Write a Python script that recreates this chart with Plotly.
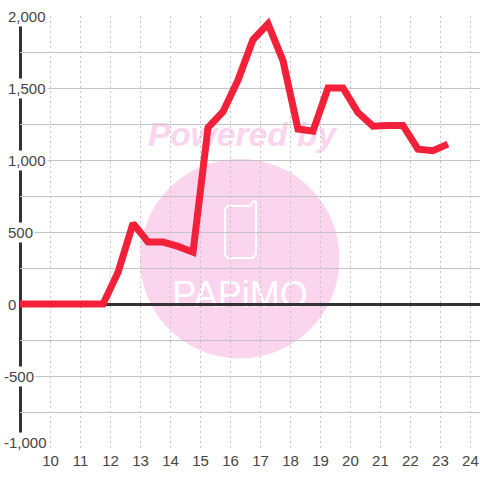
import plotly.graph_objects as go

hours = [8.75, 9.25, 9.75, 10.25, 10.75, 11.25, 11.75, 12.25, 12.75, 13.25, 13.75, 14.25, 14.75,
         15.25, 15.75, 16.25, 16.75, 17.25, 17.75, 18.25, 18.75, 19.25, 19.75, 20.25, 20.75,
         21.25, 21.75, 22.25, 22.75, 23.25]
values = [0, 0, 0, 0, 0, 0, 0, 220, 560, 430, 430, 400, 360,
          1225, 1335, 1555, 1835, 1945, 1690, 1215, 1200, 1500, 1500, 1330, 1235,
          1240, 1240, 1075, 1065, 1110]
x_ticks = list(range(10, 25))
y_labels = {2000: "2,000", 1500: "1,500", 1000: "1,000", 500: "500", 0: "0",
            -500: "-500", -1000: "-1,000"}

W, H = 480, 480
L, R, T, B = 20, 0, 16, 32
PW, PH = W - L - R, H - T - B
px = lambda v: (v - L) / PW
py = lambda v: 1 - (v - T) / PH
FONT = "Liberation Sans"
TXT = "#444444"
PINK = "#fbd5ee"

def P(points, close=False):
    s = "M " + " L ".join(f"{px(a):.5f},{py(b):.5f}" for a, b in points)
    return s + (" Z" if close else "")

shapes = [
    dict(type="circle", xref="paper", yref="paper", layer="below",
         x0=px(140), x1=px(339.5), y0=py(358.5), y1=py(159),
         fillcolor=PINK, line=dict(width=0)),
    dict(type="rect", xref="paper", yref="paper", layer="below",
         x0=px(130), x1=px(354), y0=py(147), y1=py(115),
         fillcolor="rgba(0,0,0,0)", line=dict(width=0),
         label=dict(text="<b><i>Powered by</i></b>", textposition="middle center",
                    font=dict(family=FONT, size=33.5, color=PINK))),
    dict(type="path", xref="paper", yref="paper", layer="below",
         path=P([(228, 206), (250, 206), (254, 201), (256, 202), (256, 254), (253, 258),
                 (228, 258), (225, 255), (225, 209)], close=True),
         line=dict(color="white", width=2), fillcolor="rgba(0,0,0,0)"),
    dict(type="rect", xref="paper", yref="paper", layer="below",
         x0=px(160), x1=px(320), y0=py(310), y1=py(272),
         fillcolor="rgba(0,0,0,0)", line=dict(width=0),
         label=dict(text="PAPiMO", textposition="middle center",
                    font=dict(family=FONT, size=36, color="white"))),
    dict(type="line", xref="paper", yref="paper", layer="between",
         x0=px(20.5), x1=px(20.5), y0=0, y1=1, line=dict(color="#333333", width=3)),
]

annotations = []
for v, t in y_labels.items():
    annotations.append(dict(
        xref="paper", yref="y", x=px(2 if v < 0 else 6), y=v, text=t, showarrow=False,
        xanchor="left", yanchor="middle", yshift=6 if v == -1000 else 0,
        bgcolor="white", borderpad=1, font=dict(family=FONT, size=15, color=TXT)))

fig = go.Figure(go.Scatter(
    x=hours, y=values, mode="lines",
    line=dict(color="#f22038", width=7), hoverinfo="skip"))

fig.update_layout(
    width=W, height=H, margin=dict(l=L, r=R, t=T, b=B, pad=0),
    paper_bgcolor="white", plot_bgcolor="rgba(0,0,0,0)", showlegend=False,
    shapes=shapes, annotations=annotations,
    font=dict(family=FONT, size=15, color=TXT),
    xaxis=dict(range=[8.98, 24.32], tickmode="array", tickvals=x_ticks, ticks="",
               showgrid=True, gridcolor="#c4c4c4", gridwidth=1, griddash="2px,3px",
               zeroline=False, showline=False, ticklabelstandoff=2,
               tickfont=dict(family=FONT, size=15, color=TXT)),
    yaxis=dict(range=[-1000, 2000], dtick=250, tick0=0, ticks="", showticklabels=False,
               showgrid=True, gridcolor="#c4c4c4", gridwidth=1,
               zeroline=True, zerolinecolor="#333333", zerolinewidth=3, showline=False),
)
fig.write_html("out.html", config=dict(displayModeBar=False),
               post_script="document.body.style.margin='0';document.documentElement.style.overflow='hidden';")
